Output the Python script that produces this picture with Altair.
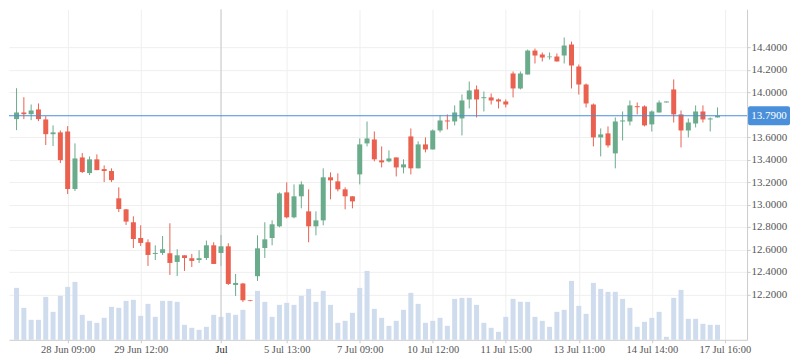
import json
import altair as alt
import pandas as pd

# ---------------- data ----------------
open_ = [13.760,13.819,13.804,13.846,13.757,13.626,13.642,13.650,13.138,13.419,
         13.280,13.402,13.315,13.298,13.055,12.957,12.842,12.702,12.664,12.560,
         12.569,12.566,12.489,12.548,12.522,12.506,12.524,12.637,12.569,12.628,
         12.284,12.297,12.148,12.362,12.613,12.702,12.806,13.108,12.886,13.073,
         12.939,12.806,12.859,13.242,13.206,13.135,13.073,13.268,13.544,13.579,
         13.393,13.384,13.419,13.330,13.606,13.322,13.535,13.490,13.659,13.748,
         13.739,13.766,13.935,14.024,13.946,13.953,13.935,13.917,14.166,14.033,
         14.157,14.370,14.335,14.311,14.317,14.326,14.424,14.228,14.068,13.890,
         13.597,13.633,13.455,13.739,13.739,13.875,13.873,13.713,13.819,13.908,
         14.024,13.802,13.659,13.721,13.828,13.757,13.775]
high = [14.035,13.955,13.890,13.899,13.786,13.704,13.659,13.698,13.544,13.458,
        13.428,13.446,13.348,13.322,13.153,12.960,12.895,12.815,12.690,12.637,
        12.720,12.833,12.602,12.548,12.560,12.593,12.679,12.664,12.729,12.655,
        12.382,12.302,12.151,12.726,12.842,12.859,13.108,13.197,13.179,13.206,
        13.135,12.939,13.322,13.286,13.277,13.153,13.073,13.588,13.739,13.650,
        13.517,13.482,13.419,13.402,13.677,13.562,13.597,13.668,13.793,13.802,
        13.882,13.979,14.095,14.059,14.006,13.988,13.944,13.935,14.184,14.184,
        14.379,14.388,14.353,14.353,14.344,14.486,14.450,14.246,14.077,13.899,
        13.677,13.695,13.775,13.828,13.926,13.908,13.882,13.837,13.926,13.917,
        14.113,13.837,13.766,13.882,13.882,13.775,13.864]
low = [13.662,13.760,13.751,13.742,13.529,13.520,13.369,13.093,13.120,13.280,
       13.262,13.306,13.200,13.200,12.933,12.818,12.613,12.631,12.453,12.506,
       12.551,12.373,12.364,12.409,12.444,12.480,12.506,12.471,12.453,12.284,
       12.186,12.133,12.139,12.320,12.524,12.637,12.797,12.877,12.877,12.966,
       12.664,12.726,12.815,13.046,13.117,12.957,12.966,13.179,13.517,13.384,
       13.330,13.375,13.250,13.277,13.268,13.322,13.464,13.490,13.642,13.668,
       13.704,13.615,13.855,13.775,13.828,13.890,13.855,13.864,13.953,14.024,
       14.157,14.255,14.273,14.290,14.273,14.255,14.033,13.979,13.864,13.517,
       13.428,13.508,13.322,13.570,13.704,13.802,13.695,13.650,13.819,13.908,
       13.730,13.508,13.597,13.686,13.730,13.650,13.775]
close = [13.819,13.804,13.837,13.760,13.626,13.642,13.395,13.138,13.410,13.289,
         13.402,13.306,13.298,13.217,12.960,12.848,12.693,12.658,12.551,12.569,
         12.602,12.480,12.548,12.524,12.498,12.522,12.637,12.471,12.628,12.293,
         12.302,12.148,12.142,12.610,12.690,12.824,13.099,12.886,13.073,13.179,
         12.806,12.859,13.242,13.215,13.135,13.073,13.028,13.535,13.588,13.402,
         13.375,13.410,13.330,13.357,13.322,13.535,13.490,13.659,13.748,13.739,
         13.819,13.926,14.015,13.935,13.955,13.926,13.917,13.890,14.033,14.166,
         14.370,14.326,14.308,14.317,14.273,14.415,14.237,14.068,13.899,13.597,
         13.624,13.526,13.739,13.748,13.882,13.866,13.704,13.828,13.908,13.917,
         13.802,13.659,13.730,13.828,13.757,13.766,13.790]
volume = [52,32,20,20,43,28,44,53,58,25,
          19,17,22,33,32,39,40,24,36,23,
          39,39,38,15,12,10,13,25,23,27,
          25,30,0,49,38,23,35,37,35,44,
          51,38,49,35,17,19,27,52,69,31,
          22,14,19,30,47,36,17,19,22,14,
          41,42,42,35,17,12,8,23,41,38,
          38,23,19,13,28,30,59,34,26,57,
          51,48,48,41,32,13,18,22,28,3,
          42,50,21,21,16,15,15]

tick_idx = [7, 17, 28, 37, 47, 57, 67, 77, 87, 97]
tick_lbl = ["28 Jun 09:00", "29 Jun 12:00", "Jul", "5 Jul 13:00", "7 Jul 09:00",
            "10 Jul 12:00", "11 Jul 15:00", "13 Jul 11:00", "14 Jul 14:00", "17 Jul 16:00"]
month_start = [28]
y_ticks = [12.2, 12.4, 12.6, 12.8, 13.0, 13.2, 13.4, 13.6, 14.0, 14.2, 14.4]
last_price = [13.79]

# ---------------- styling ----------------
W, H = 739, 331
UP, DOWN = "#6aab8c", "#ea6150"
FONT = "Liberation Serif"

df = pd.DataFrame({"i": list(range(len(open_))), "open": open_, "high": high,
                   "low": low, "close": close, "vol": volume})

xscale = alt.Scale(domain=[-0.35, 99.36], nice=False, zero=False)
yscale = alt.Scale(domain=[11.796, 14.738], nice=False, zero=False)

label_expr = "{}[indexof({}, datum.value)]".format(json.dumps(tick_lbl), json.dumps(tick_idx))

x_axis = alt.Axis(values=tick_idx, labelExpr=label_expr, title=None, grid=True,
                  gridColor="#efefef", tickColor="#cccccc", tickSize=3,
                  domainColor="#cccccc", labelFont=FONT, labelFontSize=10.5,
                  labelColor={"condition": {"test": "datum.value == 28", "value": "#222222"},
                              "value": "#555555"},
                  labelPadding=2, labelFlush=False, labelOverlap=False)
y_axis = alt.Axis(orient="right", values=y_ticks, format=".4f", title=None, grid=True,
                  gridColor="#efefef", tickColor="#cccccc", tickSize=3,
                  domainColor="#cccccc", labelFont=FONT, labelFontSize=11,
                  labelColor="#555555", labelPadding=1, labelOverlap=False)


def X(field):
    return alt.X(field, scale=xscale, axis=x_axis)


def Y(field):
    return alt.Y(field, scale=yscale, axis=y_axis)


base = alt.Chart(df).transform_calculate(
    dir="datum.close >= datum.open ? 'up' : 'down'")
color = alt.Color("dir:N", scale=alt.Scale(domain=["up", "down"], range=[UP, DOWN]),
                  legend=None)

vol = alt.Chart(df).mark_bar(width=5, color="#cfdcee").encode(
    x=X("i:Q"),
    y=alt.Y("vol:Q", scale=alt.Scale(domain=[0, H], nice=False), axis=None),
)

vline = alt.Chart(pd.DataFrame({"m": month_start})).mark_rule(
    color="#c9c9c9", strokeWidth=1).encode(x=X("m:Q"))

wicks = base.mark_rule(strokeWidth=1).encode(
    x=X("i:Q"), y=Y("low:Q"), y2="high:Q", color=color)
bodies = base.mark_bar(width=5).encode(
    x=X("i:Q"), y=Y("open:Q"), y2="close:Q", color=color)

lp = pd.DataFrame({"p": last_price})
hline = alt.Chart(lp).mark_rule(color="#4a8fd9", strokeWidth=1).encode(y=Y("p:Q"))
box = alt.Chart(lp).mark_rect(color="#4a8fd9", cornerRadius=2,
                              yOffset=-9.5, y2Offset=9.5).encode(
    x=alt.value(W + 1), x2=alt.value(W + 43), y=Y("p:Q"), y2="p:Q")
box_txt = alt.Chart(lp).mark_text(color="white", font=FONT, fontSize=11,
                                  align="center", baseline="middle").encode(
    x=alt.value(W + 22), y=Y("p:Q"), text=alt.Text("p:Q", format=".4f"))

price = alt.layer(wicks, vline, bodies, hline, box, box_txt)

chart = alt.layer(vol, price).resolve_scale(y="independent").properties(
    width=W, height=H, padding={"left": 0, "top": 0, "right": 0, "bottom": 0},
    background="white",
).configure_view(strokeWidth=0).configure_axis(labelOverlap=False)

chart.save("out.html", embed_options={"renderer": "svg", "actions": False})
